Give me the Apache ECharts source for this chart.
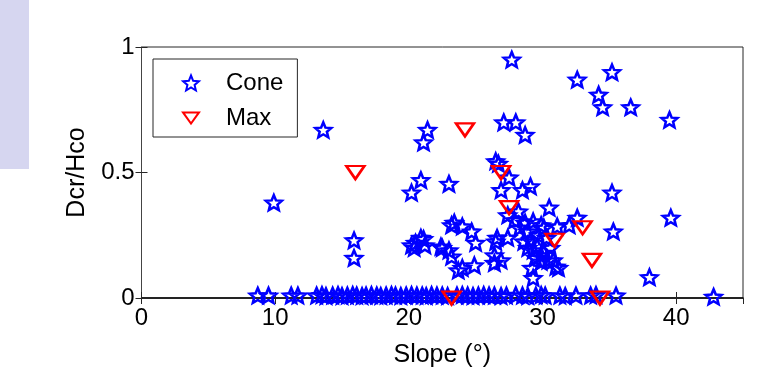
<!DOCTYPE html>
<html>
<head>
<meta charset="utf-8">
<script src="https://cdn.jsdelivr.net/npm/echarts@6/dist/echarts.min.js"></script>
<style>
  html, body { margin: 0; padding: 0; background: #fff; }
  #side { position: absolute; left: 0; top: 0; width: 29px; height: 169px; background: #d6d6f0; }
  #chart { width: 758px; height: 373px; }
</style>
</head>
<body>
<div id="side"></div>
<div id="chart"></div>
<script>
// Cone points: slope (deg) and Dcr/Hco
const coneSlope = [
  9.9, 13.6, 15.9, 15.9, 21.4, 21.1, 20.9, 20.2, 23.0, 27.7,
  32.6, 35.2, 34.2, 34.5, 36.6, 39.5, 27.1, 28.0, 28.7, 26.5,
  26.7, 27.5, 26.9, 28.5, 29.1, 35.2, 27.4, 27.9, 28.2, 30.5,
  39.6, 35.3, 32.6, 32.0, 31.1, 30.1, 29.3, 28.7, 29.9, 28.9,
  29.1, 28.6, 27.4, 26.5, 26.6, 29.6, 29.3, 29.9, 30.1, 30.4,
  30.8, 29.9, 31.2, 31.0, 29.2, 29.3, 26.9, 26.4, 26.4, 38.0,
  23.2, 24.0, 23.4, 24.7, 25.0, 20.5, 21.1, 20.9, 20.4, 21.2,
  20.2, 22.4, 22.5, 23.0, 23.2, 23.7, 24.0, 24.9, 28.3, 29.7,
  30.3, 28.9, 29.5, 30.6,
  8.7, 9.5, 11.2, 11.7, 13.1, 13.5, 13.8, 14.3, 14.7, 15.0,
  15.4, 15.8, 16.1, 16.5, 16.8, 17.2, 17.6, 17.9, 18.3, 18.7,
  19.0, 19.4, 19.8, 20.2, 20.6, 21.0, 21.3, 21.7, 22.1, 22.5,
  22.9, 23.6, 24.0, 24.4, 24.8, 25.2, 25.6, 26.0, 26.4, 26.9,
  27.3, 28.0, 28.5, 28.9, 29.5, 29.9, 30.2, 31.3, 31.7, 32.5,
  33.6, 34.0, 35.5, 42.8
];
const coneRatio = [
  0.38, 0.67, 0.23, 0.16, 0.67, 0.62, 0.47, 0.42, 0.455, 0.95,
  0.87, 0.90, 0.81, 0.76, 0.76, 0.71, 0.70, 0.70, 0.65, 0.545,
  0.535, 0.48, 0.43, 0.43, 0.445, 0.42, 0.33, 0.31, 0.345, 0.36,
  0.32, 0.265, 0.32, 0.29, 0.285, 0.28, 0.305, 0.30, 0.29, 0.265,
  0.23, 0.225, 0.24, 0.225, 0.24, 0.205, 0.19, 0.17, 0.18, 0.15,
  0.15, 0.145, 0.12, 0.125, 0.12, 0.08, 0.15, 0.17, 0.14, 0.083,
  0.29, 0.285, 0.30, 0.265, 0.22, 0.22, 0.235, 0.24, 0.20, 0.21,
  0.21, 0.205, 0.20, 0.19, 0.165, 0.11, 0.12, 0.13, 0.28, 0.25,
  0.24, 0.20, 0.16, 0.20,
  0.01, 0.01, 0.01, 0.01, 0.01, 0.012, 0.008, 0.01, 0.012, 0.008,
  0.01, 0.012, 0.01, 0.008, 0.01, 0.012, 0.01, 0.008, 0.01, 0.012,
  0.01, 0.008, 0.01, 0.012, 0.01, 0.01, 0.008, 0.012, 0.01, 0.01,
  0.008, 0.01, 0.012, 0.01, 0.008, 0.01, 0.012, 0.01, 0.01, 0.008,
  0.01, 0.012, 0.01, 0.008, 0.01, 0.012, 0.01, 0.01, 0.008, 0.01,
  0.01, 0.012, 0.01, 0.005
];
// Max points
const maxSlope = [16.0, 24.2, 26.9, 27.5, 30.9, 33.0, 33.7, 23.2, 34.3];
const maxRatio = [0.50, 0.67, 0.50, 0.36, 0.23, 0.28, 0.15, 0.0, 0.0];

const xTicks = [0, 10, 20, 30, 40];
const yTicks = [0, 0.5, 1];

const starPath = 'path://M0,-100 L26,-36 L95,-31 L43,14 L59,81 L0,45 L-59,81 L-43,14 L-95,-31 L-26,-36 Z';
const triPath = 'path://M0,0 L20,0 L10,14 Z';
const font = 'Liberation Sans, Arial, sans-serif';

const chart = echarts.init(document.getElementById('chart'));
chart.setOption({
  animation: false,
  grid: {
    left: 141.5, right: 15, top: 47, bottom: 75,
    show: true, borderColor: '#262626', borderWidth: 1, backgroundColor: 'transparent'
  },
  legend: {
    orient: 'vertical',
    left: 153, top: 59,
    data: ['Cone', 'Max'],
    borderColor: '#262626', borderWidth: 1,
    padding: [12, 14, 7, 29],
    itemWidth: 16, itemHeight: 15, itemGap: 11,
    textStyle: {fontFamily: font, fontSize: 24, color: '#000', padding: [0, 0, 0, 22]}
  },
  xAxis: [
    {
      type: 'value', min: 0, max: 45, interval: 10,
      name: 'Slope (°)', nameLocation: 'middle', nameGap: 45,
      nameTextStyle: {fontFamily: font, fontSize: 25, color: '#000'},
      axisLine: {show: true, lineStyle: {color: '#000', width: 1.5}},
      axisTick: {inside: true, length: 6, lineStyle: {color: '#262626'}},
      axisLabel: {
        fontFamily: font, fontSize: 24, color: '#000', margin: 8, showMaxLabel: false,
        formatter: v => xTicks.includes(v) ? String(v) : ''
      },
      splitLine: {show: false}
    },
    {
      type: 'value', min: 0, max: 45, interval: 10, position: 'top',
      axisLine: {show: false},
      axisTick: {inside: true, length: 6, lineStyle: {color: '#262626'}},
      axisLabel: {show: false},
      splitLine: {show: false}
    }
  ],
  yAxis: [
    {
      type: 'value', min: 0, max: 1, interval: 0.5,
      name: 'Dcr/Hco', nameLocation: 'middle', nameGap: 52,
      nameTextStyle: {fontFamily: font, fontSize: 25, color: '#000'},
      axisLine: {show: true, lineStyle: {color: '#444', width: 1}},
      axisTick: {inside: true, length: 6, lineStyle: {color: '#262626'}},
      axisLabel: {
        fontFamily: font, fontSize: 24, color: '#000', margin: 7,
        formatter: v => yTicks.includes(v) ? String(v) : ''
      },
      splitLine: {show: false}
    },
    {
      type: 'value', min: 0, max: 1, interval: 0.5, position: 'right',
      axisLine: {show: false},
      axisTick: {inside: true, length: 6, lineStyle: {color: '#262626'}},
      axisLabel: {show: false},
      splitLine: {show: false}
    }
  ],
  series: [
    {
      name: 'Cone',
      type: 'scatter',
      symbol: starPath,
      symbolSize: [16, 15],
      itemStyle: {color: 'rgba(0,0,0,0)', borderColor: '#0000ff', borderWidth: 2.5, opacity: 1},
      data: coneSlope.map((x, i) => [x, coneRatio[i]])
    },
    {
      name: 'Max',
      type: 'scatter',
      symbol: triPath,
      symbolSize: [18, 13],
      itemStyle: {color: 'rgba(0,0,0,0)', borderColor: '#ff0000', borderWidth: 2.5, opacity: 1},
      data: maxSlope.map((x, i) => [x, maxRatio[i]])
    }
  ]
});
</script>
</body>
</html>
